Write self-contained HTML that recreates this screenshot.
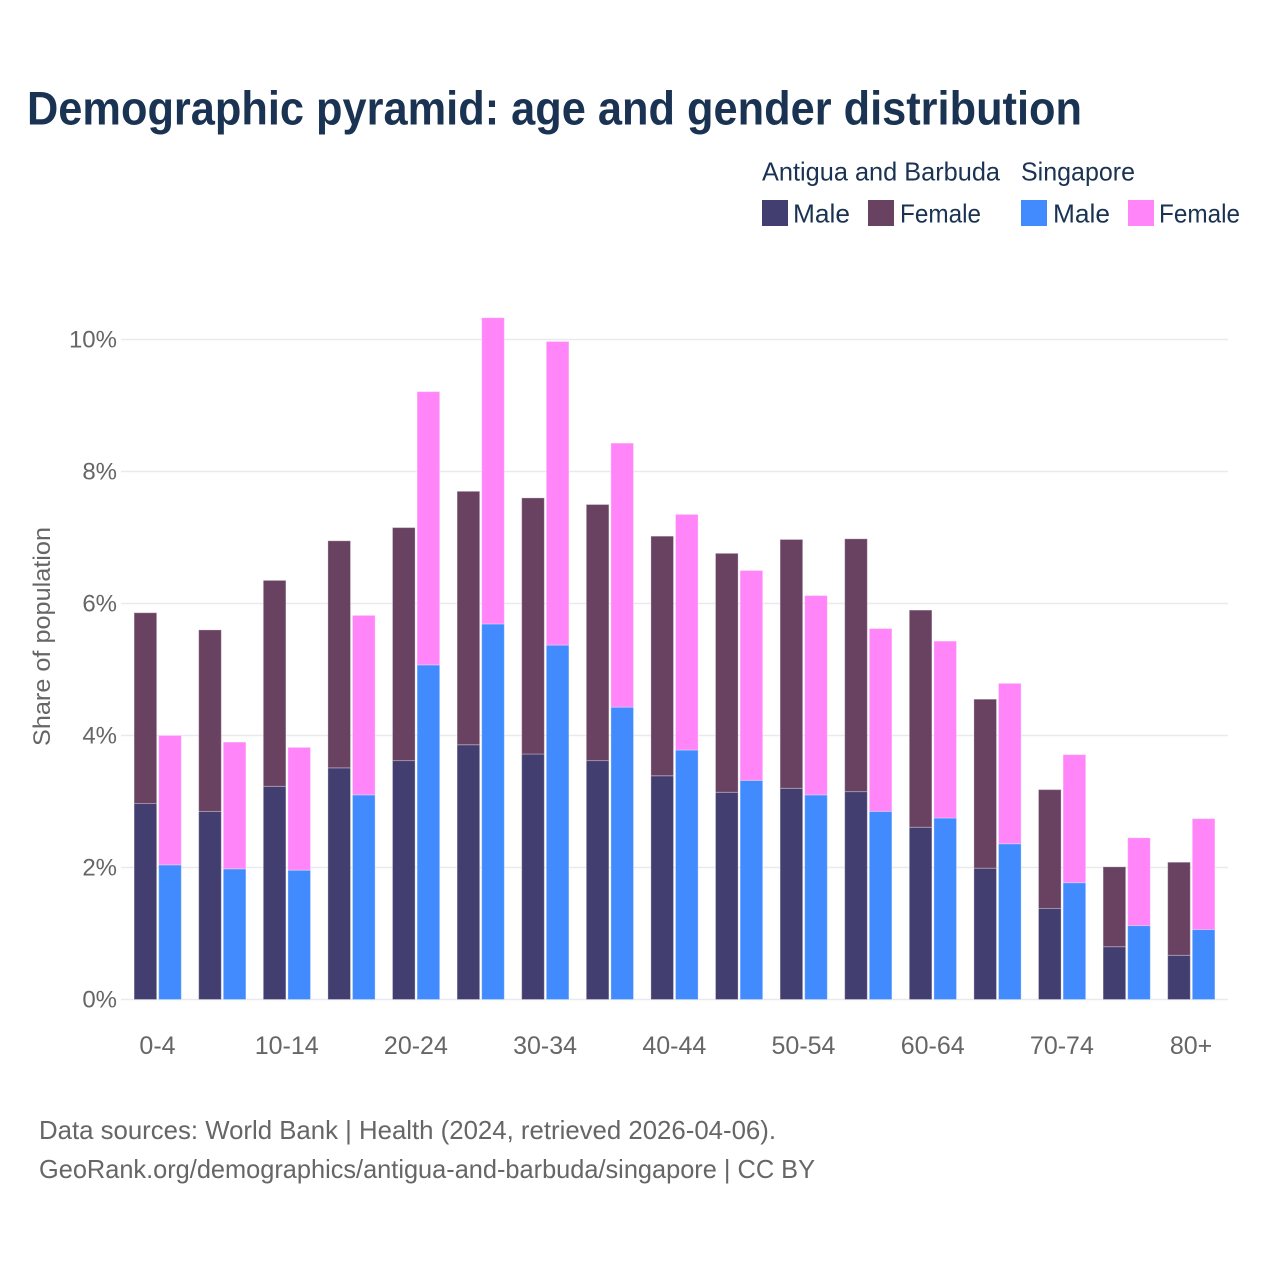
<!DOCTYPE html>
<html lang="en">
<head>
<meta charset="utf-8">
<title>Demographic pyramid: age and gender distribution</title>
<style>
html,body{margin:0;padding:0;background:#fff;}
svg{display:block;font-family:"Liberation Sans",sans-serif;}
</style>
</head>
<body>
<svg id="chart" xmlns="http://www.w3.org/2000/svg" width="1280" height="1280" viewBox="0 0 1280 1280">
  <rect x="0" y="0" width="1280" height="1280" fill="#ffffff"/>
  <text x="27" y="124.5" font-size="47" font-weight="700" fill="#1a3353" textLength="1055" lengthAdjust="spacingAndGlyphs">Demographic pyramid: age and gender distribution</text>

  <g font-size="26" fill="#1a3353">
    <text x="762" y="180.5" textLength="238" lengthAdjust="spacingAndGlyphs">Antigua and Barbuda</text>
    <text x="1021" y="180.5" textLength="114" lengthAdjust="spacingAndGlyphs">Singapore</text>
    <rect x="762" y="200" width="26" height="26" fill="#433e70"/>
    <text x="793" y="222.5" textLength="57" lengthAdjust="spacingAndGlyphs">Male</text>
    <rect x="868" y="200" width="26" height="26" fill="#694161"/>
    <text x="900" y="222.5" textLength="81" lengthAdjust="spacingAndGlyphs">Female</text>
    <rect x="1021" y="200" width="26" height="26" fill="#418bff"/>
    <text x="1053" y="222.5" textLength="57" lengthAdjust="spacingAndGlyphs">Male</text>
    <rect x="1128" y="200" width="26" height="26" fill="#ff85f9"/>
    <text x="1159" y="222.5" textLength="81" lengthAdjust="spacingAndGlyphs">Female</text>
  </g>

  <g id="grid"></g>
  <g id="bars"></g>
  <g id="y-ticks"></g>
  <g id="x-ticks"></g>

  <text transform="translate(50,746) rotate(-90)" x="0" y="0" font-size="24" fill="#666666" textLength="219" lengthAdjust="spacingAndGlyphs">Share of population</text>

  <text x="39" y="1139" font-size="26" fill="#666666" textLength="737" lengthAdjust="spacingAndGlyphs">Data sources: World Bank | Health (2024, retrieved 2026-04-06).</text>
  <text x="39" y="1178" font-size="26" fill="#666666" textLength="776" lengthAdjust="spacingAndGlyphs">GeoRank.org/demographics/antigua-and-barbuda/singapore | CC BY</text>
</svg>
<script>
var categories = ["0-4","5-9","10-14","15-19","20-24","25-29","30-34","35-39","40-44","45-49","50-54","55-59","60-64","65-69","70-74","75-79","80+"];
var antiguaMale = [2.97,2.85,3.23,3.51,3.62,3.86,3.72,3.62,3.39,3.14,3.20,3.15,2.61,1.99,1.38,0.80,0.67];
var antiguaFemale = [2.89,2.75,3.12,3.44,3.53,3.84,3.88,3.88,3.63,3.62,3.77,3.83,3.29,2.56,1.80,1.21,1.41];
var singaporeMale = [2.04,1.98,1.96,3.10,5.07,5.69,5.37,4.43,3.78,3.32,3.10,2.85,2.75,2.36,1.77,1.12,1.06];
var singaporeFemale = [1.96,1.92,1.86,2.72,4.14,4.64,4.60,4.00,3.57,3.18,3.02,2.77,2.68,2.43,1.94,1.33,1.68];
var yTicks = [0,2,4,6,8,10];
var xTickEvery = 2;

var NS = "http://www.w3.org/2000/svg";
var plotRight = 1228, y0 = 999.5, pxPerPct = 66;
var bandStep = 64.6, firstCenter = 157.5, barW = 22.6, barOffsetA = -23.4, barOffsetB = 1.2;

function yScale(v){ return y0 - v * pxPerPct; }
function xCenter(i){ return firstCenter + bandStep * i; }

function addBar(parent, name, x, v0, v1, fill){
  var r = document.createElementNS(NS, "rect");
  r.setAttribute("x", x);
  r.setAttribute("y", yScale(v1));
  r.setAttribute("width", barW);
  r.setAttribute("height", yScale(v0) - yScale(v1));
  r.setAttribute("fill", fill);
  r.setAttribute("stroke", "#ffffff");
  r.setAttribute("stroke-opacity", "0.3");
  r.setAttribute("stroke-width", "1");
  
  
  parent.appendChild(r);
}

var gridG = document.getElementById("grid");
var yTickG = document.getElementById("y-ticks");
yTicks.forEach(function(t){
  var l = document.createElementNS(NS, "line");
  l.setAttribute("x1", 121);
  l.setAttribute("x2", plotRight);
  l.setAttribute("y1", yScale(t));
  l.setAttribute("y2", yScale(t));
  l.setAttribute("stroke", "#e9e9ef");
  l.setAttribute("stroke-width", "1.5");
  
  
  gridG.appendChild(l);

  var tx = document.createElementNS(NS, "text");
  tx.setAttribute("x", 117);
  tx.setAttribute("y", yScale(t) + 8);
  tx.setAttribute("text-anchor", "end");
  tx.setAttribute("font-size", "24");
  tx.setAttribute("fill", "#666666");
  tx.textContent = t + "%";
  
  
  yTickG.appendChild(tx);
});

var barsG = document.getElementById("bars");
var xTickG = document.getElementById("x-ticks");
categories.forEach(function(c, i){
  var xc = xCenter(i);
  addBar(barsG, "bar-antigua-male-" + c, xc + barOffsetA, 0, antiguaMale[i], "#433e70");
  addBar(barsG, "bar-antigua-female-" + c, xc + barOffsetA, antiguaMale[i], antiguaMale[i] + antiguaFemale[i], "#694161");
  addBar(barsG, "bar-singapore-male-" + c, xc + barOffsetB, 0, singaporeMale[i], "#418bff");
  addBar(barsG, "bar-singapore-female-" + c, xc + barOffsetB, singaporeMale[i], singaporeMale[i] + singaporeFemale[i], "#ff85f9");

  if (i % xTickEvery === 0) {
    var tx = document.createElementNS(NS, "text");
    tx.setAttribute("x", xc);
    tx.setAttribute("y", 1054);
    tx.setAttribute("text-anchor", "middle");
    tx.setAttribute("font-size", "25");
    tx.setAttribute("fill", "#666666");
    tx.textContent = c;
    
    
    xTickG.appendChild(tx);
  }
});
</script>
</body>
</html>
